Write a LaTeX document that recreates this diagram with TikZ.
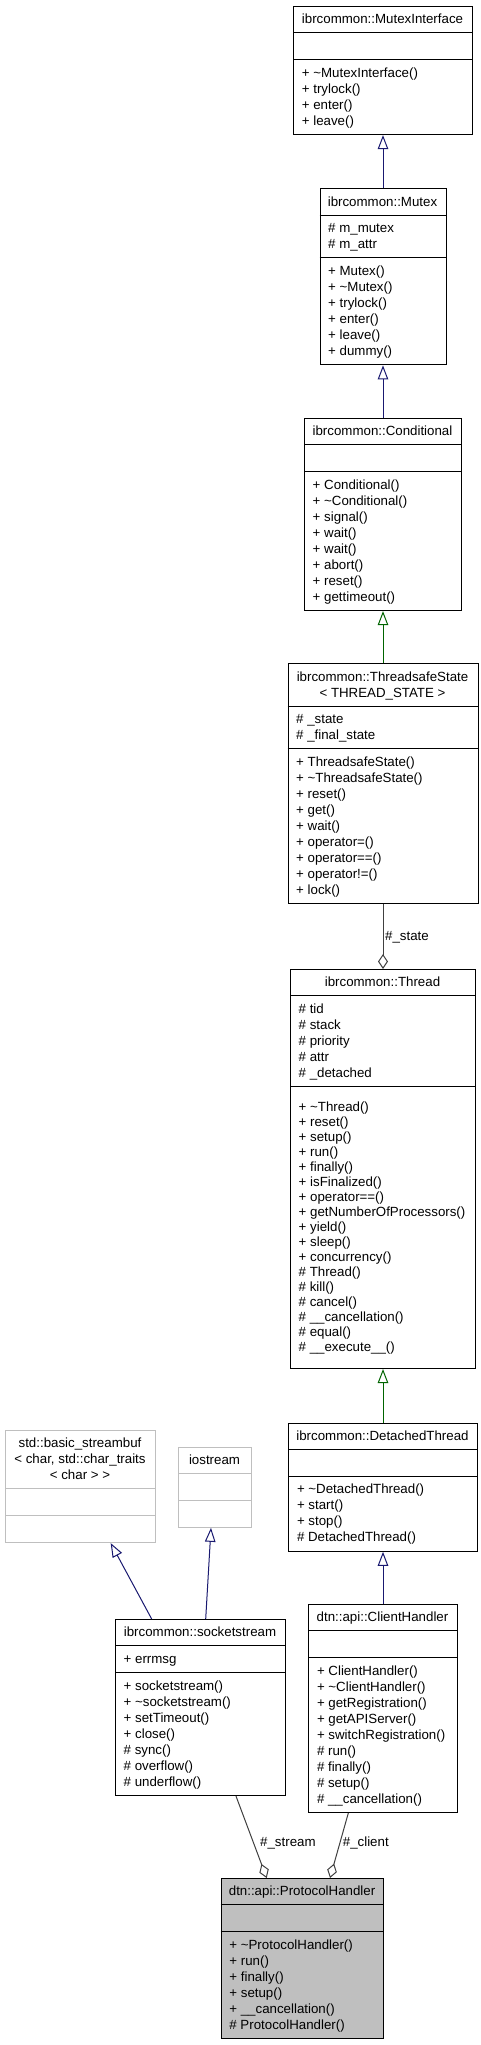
\documentclass[tikz,border=0pt]{standalone}
\usepackage{fontspec}
\setmainfont{Liberation Sans}
\usetikzlibrary{arrows.meta,calc}
\definecolor{inhblue}{RGB}{25,25,112}
\definecolor{inhgreen}{RGB}{0,100,0}
\definecolor{aggr}{RGB}{64,64,64}
\definecolor{phfill}{RGB}{191,191,191}
\definecolor{extgray}{RGB}{191,191,191}
\newcommand{\st}{\rule[-3.6pt]{0pt}{16pt}}
\newcommand{\stt}{\rule[-3.3pt]{0pt}{15.05pt}}
\newcommand{\tl}{\textasciitilde}
\newcommand{\mls}{16}
% #1 name, #2 xl, #3 xr, #4 ytop, #5 title lines, #6 attr lines, #7 method lines, #8 kind
\newcommand{\umlclass}[8]{%
  \pgfmathsetmacro{\yA}{#4+#5*16+10.7}%
  \pgfmathsetmacro{\yB}{\yA+#6*16+10.7}%
  \pgfmathsetmacro{\yC}{\yB+#7*\mls+10.7}%
  \pgfmathsetmacro{\bw}{#3-#2}%
  \pgfmathsetmacro{\bh}{\yC-#4}%
  \node[box#8,minimum width=\bw pt,minimum height=\bh pt,anchor=north west] (#1) at (#2,#4) {};
  \draw[sep#8] (#2,\yA) -- (#3,\yA);
  \draw[sep#8] (#2,\yB) -- (#3,\yB);
  \coordinate (#1-tc) at ({(#2+#3)/2},{(#4+\yA)/2});
  \coordinate (#1-ac) at ({#2+8.5},{(\yA+\yB)/2});
  \coordinate (#1-mc) at ({#2+8.5},{(\yB+\yC)/2});
}
\tikzset{
  boxstd/.style={draw=black,line width=1pt,fill=white,inner sep=0pt},
  boxext/.style={draw=extgray,line width=1pt,fill=white,inner sep=0pt},
  boxcur/.style={draw=black,line width=1pt,fill=phfill,inner sep=0pt},
  sepstd/.style={draw=black,line width=1pt},
  sepext/.style={draw=extgray,line width=1pt},
  sepcur/.style={draw=black,line width=1pt},
  txt/.style={inner sep=0pt,font=\fontsize{13.3}{16}\selectfont},
  ttl/.style={txt,align=center},
  mem/.style={txt,align=left,anchor=west},
  memt/.style={inner sep=0pt,font=\fontsize{13.3}{15.05}\selectfont,align=left,anchor=west},
  lbl/.style={txt,anchor=west},
  inhb/.style={draw=inhblue,line width=1pt,-{Triangle[open,length=14pt,width=10.5pt]}},
  inhg/.style={draw=inhgreen,line width=1pt,-{Triangle[open,length=14pt,width=10.5pt]}},
  agg/.style={draw=aggr,line width=1pt,-{Diamond[open,length=15pt,width=10pt]}},
}
\begin{document}
\begin{tikzpicture}[x=1pt,y=-1pt]
\useasboundingbox[fill=white] (0,0) rectangle (481,2045);

% MutexInterface
\umlclass{mi}{293.2}{471.8}{6}{1}{1}{4}{std}
\node[ttl] (mi-t) at (mi-tc) {\st ibrcommon::MutexInterface};
\node[mem] (mi-m) at (mi-mc) {\st + \tl MutexInterface()\\\st + trylock()\\\st + enter()\\\st + leave()};

% Mutex
\umlclass{mutex}{319.5}{445.5}{188.3}{1}{2}{6}{std}
\node[ttl] (mutex-t) at (mutex-tc) {\st ibrcommon::Mutex};
\node[mem] (mutex-a) at (mutex-ac) {\st \# m\_mutex\\\st \# m\_attr};
\node[mem] (mutex-m) at (mutex-mc) {\st + Mutex()\\\st + \tl Mutex()\\\st + trylock()\\\st + enter()\\\st + leave()\\\st + dummy()};

% Conditional
\umlclass{cond}{304}{461}{418}{1}{1}{8}{std}
\node[ttl] (cond-t) at (cond-tc) {\st ibrcommon::Conditional};
\node[mem] (cond-m) at (cond-mc) {\st + Conditional()\\\st + \tl Conditional()\\\st + signal()\\\st + wait()\\\st + wait()\\\st + abort()\\\st + reset()\\\st + gettimeout()};

% ThreadsafeState
\umlclass{ts}{287.5}{477.5}{663.3}{2}{2}{9}{std}
\node[ttl] (ts-t) at (ts-tc) {\st ibrcommon::ThreadsafeState\\\st < THREAD\_STATE >};
\node[mem] (ts-a) at (ts-ac) {\st \# \_state\\\st \# \_final\_state};
\node[mem] (ts-m) at (ts-mc) {\st + ThreadsafeState()\\\st + \tl ThreadsafeState()\\\st + reset()\\\st + get()\\\st + wait()\\\st + operator=()\\\st + operator==()\\\st + operator!=()\\\st + lock()};

% Thread
\renewcommand{\mls}{15.05}
\umlclass{thread}{290}{475}{969}{1}{5}{18}{std}
\renewcommand{\mls}{16}
\node[ttl] (thread-t) at (thread-tc) {\st ibrcommon::Thread};
\node[mem] (thread-a) at (thread-ac) {\st \# tid\\\st \# stack\\\st \# priority\\\st \# attr\\\st \# \_detached};
\node[memt] (thread-m) at (thread-mc) {\stt + \tl Thread()\\\stt + reset()\\\stt + setup()\\\stt + run()\\\stt + finally()\\\stt + isFinalized()\\\stt + operator==()\\\stt + getNumberOfProcessors()\\\stt + yield()\\\stt + sleep()\\\stt + concurrency()\\\stt \# Thread()\\\stt \# kill()\\\stt \# cancel()\\\stt \# \_\_cancellation()\\\stt \# equal()\\\stt \# \_\_execute\_\_()};

% DetachedThread
\umlclass{dt}{288.3}{476.7}{1422.7}{1}{1}{4}{std}
\node[ttl] (dt-t) at (dt-tc) {\st ibrcommon::DetachedThread};
\node[mem] (dt-m) at (dt-mc) {\st + \tl DetachedThread()\\\st + start()\\\st + stop()\\\st \# DetachedThread()};

% ClientHandler
\umlclass{ch}{308.3}{456.7}{1604}{1}{1}{9}{std}
\node[ttl] (ch-t) at (ch-tc) {\st dtn::api::ClientHandler};
\node[mem] (ch-m) at (ch-mc) {\st + ClientHandler()\\\st + \tl ClientHandler()\\\st + getRegistration()\\\st + getAPIServer()\\\st + switchRegistration()\\\st \# run()\\\st \# finally()\\\st \# setup()\\\st \# \_\_cancellation()};

% basic_streambuf
\umlclass{bsb}{5}{155}{1430}{3}{1}{1}{ext}
\node[ttl] (bsb-t) at (bsb-tc) {\st std::basic\_streambuf\\\st < char, std::char\_traits\\\st < char > >};

% iostream
\umlclass{io}{178.3}{250.7}{1446.7}{1}{1}{1}{ext}
\node[ttl] (io-t) at (io-tc) {\st iostream};

% socketstream
\umlclass{ss}{115}{285}{1619}{1}{1}{7}{std}
\node[ttl] (ss-t) at (ss-tc) {\st ibrcommon::socketstream};
\node[mem] (ss-a) at (ss-ac) {\st + errmsg};
\node[mem] (ss-m) at (ss-mc) {\st + socketstream()\\\st + \tl socketstream()\\\st + setTimeout()\\\st + close()\\\st \# sync()\\\st \# overflow()\\\st \# underflow()};

% ProtocolHandler
\umlclass{ph}{220.7}{383.4}{1878}{1}{1}{6}{cur}
\node[ttl] (ph-t) at (ph-tc) {\st dtn::api::ProtocolHandler};
\node[mem] (ph-m) at (ph-mc) {\st + \tl ProtocolHandler()\\\st + run()\\\st + finally()\\\st + setup()\\\st + \_\_cancellation()\\\st \# ProtocolHandler()};

% connectors
\draw[inhb] (mutex.north) -- (mi.south);
\draw[inhb] (cond.north) -- (mutex.south);
\draw[inhg] (ts.north) -- (cond.south);
\draw[agg] (ts.south) -- (thread.north);
\node[lbl] (lstate) at (385,937) {\#\_state};
\draw[inhg] (dt.north) -- (thread.south);
\draw[inhb] (ch.north) -- (dt.south);
\draw[inhb] ($(ss.north west)+(36.7,0)$) -- ($(bsb.south west)+(105.7,0)$);
\draw[inhb] ($(ss.north west)+(90.7,0)$) -- ($(io.south west)+(32.7,0)$);
\draw[agg] ($(ss.south west)+(121,0)$) -- ($(ph.north west)+(46,0)$);
\draw[agg] ($(ch.south west)+(40,0)$) -- ($(ph.north west)+(109.3,0)$);
\node[lbl] (lstream) at (260,1843) {\#\_stream};
\node[lbl] (lclient) at (342.7,1843) {\#\_client};
\end{tikzpicture}
\end{document}
